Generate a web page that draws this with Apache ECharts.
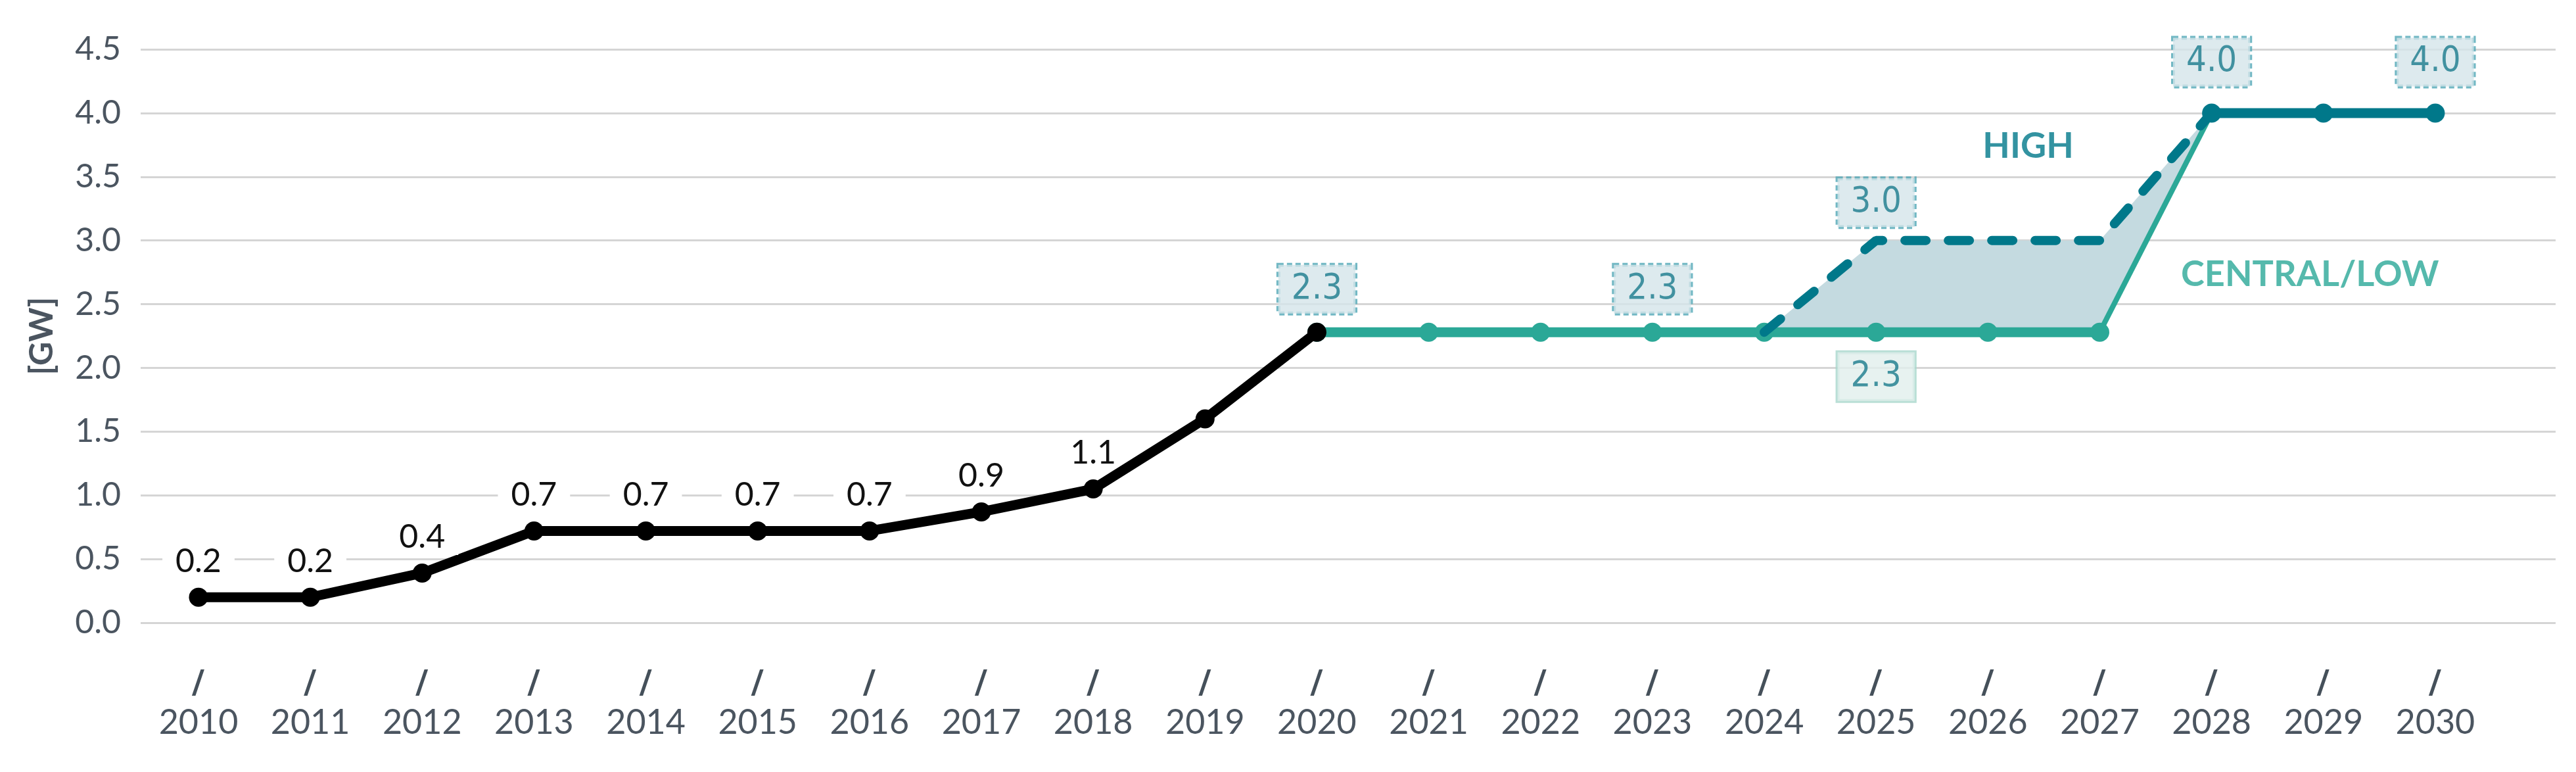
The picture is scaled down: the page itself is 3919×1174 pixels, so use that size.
<!DOCTYPE html>
<html>
<head>
<meta charset="utf-8">
<title>GW outlook</title>
<script src="https://cdn.jsdelivr.net/npm/echarts@6/dist/echarts.min.js"></script>
<style>
    html, body { margin: 0; padding: 0; background: #fff; }
    #chart { width: 3919px; height: 1174px; }
</style>
</head>
<body>
<div id="chart"></div>
<script>
// ---- data ----
var years = [2010, 2011, 2012, 2013, 2014, 2015, 2016, 2017, 2018, 2019, 2020,
    2021, 2022, 2023, 2024, 2025, 2026, 2027, 2028, 2029, 2030];

var historyYears = [2010, 2011, 2012, 2013, 2014, 2015, 2016, 2017, 2018, 2019, 2020];
var historyValues = [0.2, 0.2, 0.39, 0.72, 0.72, 0.72, 0.72, 0.87, 1.05, 1.6, 2.28];
var historyLabels = ['0.2', '0.2', '0.4', '0.7', '0.7', '0.7', '0.7', '0.9', '1.1', '', ''];

var centralYears = [2020, 2021, 2022, 2023, 2024, 2025, 2026, 2027, 2028];
var centralValues = [2.28, 2.28, 2.28, 2.28, 2.28, 2.28, 2.28, 2.28, 4.0];

var highYears = [2024, 2025, 2026, 2027, 2028];
var highValues = [2.28, 3.0, 3.0, 3.0, 4.0];

var convergedYears = [2028, 2029, 2030];
var convergedValues = [4.0, 4.0, 4.0];

var boxYears = [2020, 2023, 2025, 2025, 2028, 2030];
var boxValues = [2.28, 2.28, 2.28, 3.0, 4.0, 4.0];
var boxTexts = ['2.3', '2.3', '2.3', '3.0', '4.0', '4.0'];
var boxKinds = ['high', 'high', 'central', 'high', 'high', 'high'];

var noteTexts = ['HIGH', 'CENTRAL/LOW'];
var noteYears = [2026.36, 2028.88];
var noteValues = [3.74, 2.73];

var yMin = 0, yMax = 4.5, yStep = 0.5;

// ---- styling ----
var GRAY_TEXT = '#4b5560';
var TEAL = '#2ba897';
var DARK_TEAL = '#00788a';
var FILL = '#c4dae0';
var MAIN_FONT = 'Lato, "Open Sans", sans-serif';
var NARROW_FONT = '"Liberation Sans Narrow", "DejaVu Sans Condensed", Roboto, sans-serif';

function pairs(xs, vs) {
    return xs.map(function (x, i) { return [x, vs[i]]; });
}

function centralAt(year) {
    return centralValues[centralYears.indexOf(year)];
}

// value first so the stack runs on y (x is a value axis too)
var bandBase = highYears.map(function (y) { return [centralAt(y), y]; });
var bandDiff = highYears.map(function (y, i) { return [+(highValues[i] - centralAt(y)).toFixed(3), y]; });

var boxGap = [28, 28, 30, 20, 40, 40];
var boxData = boxYears.map(function (y, i) {
    var below = boxKinds[i] === 'central';
    return {
        value: [y, boxValues[i]],
        label: {
            show: true,
            formatter: boxTexts[i],
            position: below ? 'bottom' : 'top',
            distance: boxGap[i],
            fontFamily: NARROW_FONT,
            fontSize: 54,
            lineHeight: 56,
            color: '#1a7a8c',
            backgroundColor: below ? '#e1efec' : '#d4e5ea',
            borderColor: below ? '#a8d7cc' : '#4fa6b5',
            borderWidth: 3,
            borderType: below ? 'solid' : [8, 5],
            padding: [9, 20]
        }
    };
});

var historyData = historyYears.map(function (y, i) {
    return {
        value: [y, historyValues[i]],
        label: {
            show: historyLabels[i] !== '',
            // the 1.1 label sits clear of the grid lines, so no knock-out
            backgroundColor: historyValues[i] > 1 ? 'transparent' : '#fff'
        }
    };
});

var noteData = noteTexts.map(function (t, i) {
    return {
        value: [noteYears[i], noteValues[i]],
        label: {
            show: true,
            position: 'inside',
            formatter: t,
            fontFamily: MAIN_FONT,
            fontWeight: 'bold',
            fontSize: 54,
            color: i === 0 ? DARK_TEAL : TEAL
        }
    };
});

var myChart = echarts.init(document.getElementById('chart'));

var option = {
    backgroundColor: '#fff',
    animation: false,
    grid: { left: 214, right: 31, top: 75, bottom: 227 },
    xAxis: {
        type: 'value',
        min: 2009.483,
        max: 2031.076,
        axisLine: { show: false },
        axisTick: { show: false },
        splitLine: { show: false },
        axisLabel: {
            customValues: years,
            margin: 66,
            formatter: function (v) { return '{s|/}\n{y|' + v + '}'; },
            rich: {
                s: { fontFamily: 'Roboto, sans-serif', fontSize: 52, fontWeight: 'bold', lineHeight: 58, color: '#45505a' },
                y: { fontFamily: MAIN_FONT, fontSize: 52, lineHeight: 56, color: GRAY_TEXT }
            }
        }
    },
    yAxis: {
        type: 'value',
        min: yMin,
        max: yMax,
        interval: yStep,
        name: '[GW]',
        nameLocation: 'middle',
        nameGap: 125,
        nameRotate: 90,
        nameTextStyle: { fontFamily: MAIN_FONT, fontWeight: 'bold', fontSize: 50, color: GRAY_TEXT },
        axisLine: { show: false },
        axisTick: { show: false },
        axisLabel: {
            margin: 30,
            fontFamily: MAIN_FONT,
            fontSize: 50,
            color: GRAY_TEXT,
            formatter: function (v) { return v.toFixed(1); }
        },
        splitLine: { lineStyle: { color: '#d5d5d5', width: 3 } }
    },
    series: [
        {
            name: 'band-base',
            type: 'line',
            stack: 'band',
            data: bandBase,
            encode: { x: 1, y: 0 },
            showSymbol: false,
            lineStyle: { width: 0, opacity: 0 },
            z: 1,
            silent: true
        },
        {
            name: 'band',
            type: 'line',
            stack: 'band',
            data: bandDiff,
            encode: { x: 1, y: 0 },
            showSymbol: false,
            lineStyle: { width: 0, opacity: 0 },
            areaStyle: { color: FILL, opacity: 1 },
            z: 1,
            silent: true
        },
        {
            name: 'central-rise',
            type: 'line',
            data: pairs(centralYears.slice(-2), centralValues.slice(-2)),
            showSymbol: false,
            lineStyle: { color: TEAL, width: 8 },
            z: 3
        },
        {
            name: 'central',
            type: 'line',
            data: pairs(centralYears.slice(0, -1), centralValues.slice(0, -1)),
            symbol: 'circle',
            symbolSize: 29,
            itemStyle: { color: TEAL },
            lineStyle: { color: TEAL, width: 15 },
            z: 3
        },
        {
            name: 'high',
            type: 'line',
            data: pairs(highYears, highValues),
            showSymbol: false,
            lineStyle: { color: DARK_TEAL, width: 14, type: [32, 34], cap: 'round' },
            z: 4
        },
        {
            name: 'converged',
            type: 'line',
            data: pairs(convergedYears, convergedValues),
            symbol: 'circle',
            symbolSize: 29,
            itemStyle: { color: DARK_TEAL },
            lineStyle: { color: DARK_TEAL, width: 15 },
            z: 4
        },
        {
            name: 'history',
            type: 'line',
            data: historyData,
            symbol: 'circle',
            symbolSize: 29,
            itemStyle: { color: '#000' },
            lineStyle: { color: '#000', width: 15 },
            label: {
                position: 'top',
                distance: 13,
                formatter: function (p) { return historyLabels[p.dataIndex]; },
                fontFamily: MAIN_FONT,
                fontSize: 50,
                color: '#111',
                padding: [2, 20]
            },
            z: 5
        },
        {
            name: 'boxes',
            type: 'scatter',
            data: boxData,
            symbolSize: 1,
            itemStyle: { color: 'rgba(0,0,0,0)' },
            silent: true,
            z: 6
        },
        {
            name: 'notes',
            type: 'scatter',
            data: noteData,
            symbolSize: 1,
            itemStyle: { color: 'rgba(0,0,0,0)' },
            silent: true,
            z: 6
        }
    ]
};

myChart.setOption(option);
</script>
</body>
</html>
